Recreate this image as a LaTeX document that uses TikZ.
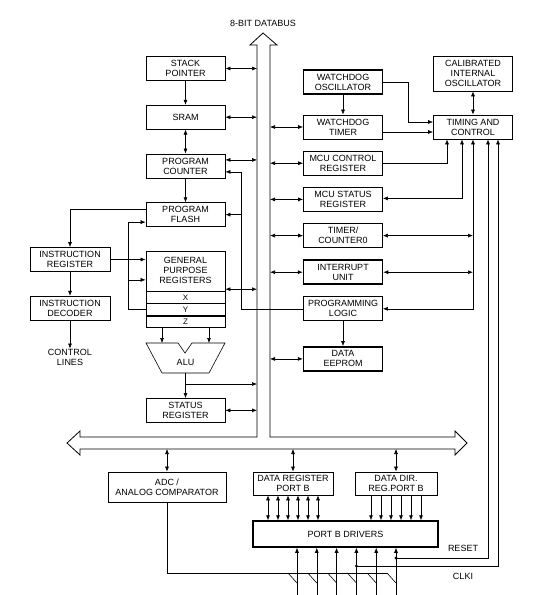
\documentclass[tikz,border=0pt]{standalone}
\usepackage{fontspec}
\setmainfont{Liberation Sans}
\usetikzlibrary{arrows.meta, positioning, calc}

\begin{document}
\begin{tikzpicture}[x=1pt, y=-1pt, >={Latex[length=5pt,width=4pt]}, line width=0.6pt,
  node distance=24pt,
  box/.style={draw, line width=0.7pt, minimum width=79pt, minimum height=24pt, inner sep=0pt,
              align=center, font=\fontsize{9}{10}\selectfont},
  tbox/.style={box, line width=1.5pt},
  row/.style={box, minimum height=11.5pt, font=\fontsize{8}{9}\selectfont},
  lbl/.style={inner sep=0pt, align=center, font=\fontsize{9}{10}\selectfont}]
\useasboundingbox (0,0) rectangle (546,595);

\coordinate (busL) at (257,0);
\coordinate (busR) at (270,0);
\coordinate (busB) at (0,449);
\draw[line width=0.8pt] (67,443) -- (80,431) -- (80,437) -- (257,437) -- (257,45) -- (250,45)
  -- (263,33) -- (277,45) -- (270,45) -- (270,437) -- (455,437) -- (455,431) -- (467,443)
  -- (455,455) -- (455,449) -- (80,449) -- (80,455) -- cycle;
\node[lbl] (db) at (263,23) {8-BIT DATABUS};

\node[box] (sp) at (185.5,68.5) {STACK\\POINTER};
\node[box, below=of sp] (sram) {SRAM};
\node[box, below=of sram] (pc) {PROGRAM\\COUNTER};
\node[box, below=of pc] (pf) {PROGRAM\\FLASH};
\node[box, minimum height=40pt, anchor=north] (gpr) at (185.5,250.5) {GENERAL\\PURPOSE\\REGISTERS};
\node[row, below=0pt of gpr] (rx) {X};
\node[row, below=0pt of rx] (ry) {Y};
\node[row, below=0pt of ry] (rz) {Z};
\node[lbl] (alu) at (185.5,362) {ALU};
\draw (146,343) -- (178,343) -- (185,353) -- (192,343) -- (225,343) -- (209,373) -- (162,373) -- cycle;
\node[box, anchor=north] (sr) at (185.5,398) {STATUS\\REGISTER};
\node[box, minimum width=80pt] (ir) at (70,259.5) {INSTRUCTION\\REGISTER};
\node[box, minimum width=80pt, below=of ir] (id) {INSTRUCTION\\DECODER};
\node[lbl] (cl) at (70,357) {CONTROL\\LINES};

\node[tbox] (wo) at (343,82) {WATCHDOG\\OSCILLATOR};
\node[box] (wt) at (343,127) {WATCHDOG\\TIMER};
\node[box, below=11.5pt of wt] (mcr) {MCU CONTROL\\REGISTER};
\node[box, below=11.5pt of mcr] (msr) {MCU STATUS\\REGISTER};
\node[box, below=11.5pt of msr] (t0) {TIMER/\\COUNTER0};
\node[tbox, below=11.5pt of t0] (iu) {INTERRUPT\\UNIT};
\node[box, below=11.5pt of iu] (pl) {PROGRAMMING\\LOGIC};
\node[tbox, below=25pt of pl] (de) {DATA\\EEPROM};
\node[box, minimum height=35pt] (cio) at (473,73.5) {CALIBRATED\\INTERNAL\\OSCILLATOR};
\node[box] (tc) at (473,127) {TIMING AND\\CONTROL};

\node[box, minimum width=118pt, minimum height=30pt] (adc) at (167,487) {ADC /\\ANALOG COMPARATOR};
\node[box, minimum width=80pt, minimum height=23pt] (drpb) at (293,483.5) {DATA REGISTER\\PORT B};
\node[box, minimum width=82pt, minimum height=23pt] (ddr) at (396,483.5) {DATA DIR.\\REG.PORT B};
\node[tbox, minimum width=185pt, minimum height=26pt] (pbd) at (345.5,534) {PORT B DRIVERS};
\node[lbl] (rst) at (463,548) {RESET};
\node[lbl] (clki) at (463,576) {CLKI};

\draw[->] (sp) -- (sram);
\draw[<->] (sram) -- (pc);
\draw[->] (pc) -- (pf);
\coordinate (pc1) at ([yshift=6pt]pc.east);
\coordinate (pc2) at ([yshift=-6pt]pc.east);
\foreach \n in {sp, sram, pc1, sr} \draw[<->] (\n) -- (\n -| busL);
\coordinate (g2) at ([yshift=2pt]gpr.south east);
\draw[<->] (g2) -- (g2 -| busL);
\coordinate (plx) at (241,0);
\draw[->] (pl.west) -- (pl.west -| plx) |- (pc2);
\draw[->] (plx |- pf.east) -- (pf.east);
\draw[->] ([yshift=5pt]pf.west) -| (ir.north);
\coordinate (lp) at (128,0);
\draw[->] (ry.west) -- (lp |- ry.west) |- ([yshift=-7.5pt]pf.west);
\coordinate (g1) at ([yshift=-9pt]gpr.west);
\draw[->] (lp |- g1) -- (g1);
\draw[->] (ir.east) -- (ir.east -| gpr.west);
\draw[->] (ir) -- (id);
\draw[->] (id) -- (cl);
\coordinate (a1) at (162,343);
\coordinate (a2) at (209,343);
\draw[->] (rz.south -| a1) -- (a1);
\draw[->] (rz.south -| a2) -- (a2);
\coordinate (a3) at (185.5,373);
\coordinate (a4) at (185.5,384);
\draw[->] (a3) -- (sr.north);
\draw[->] (a4) -- (a4 -| busL);

\foreach \n in {wt, mcr, msr, t0, iu, de} \draw[<->] (busR |- \n.west) -- (\n.west);
\draw[->] (wo) -- (wt);
\coordinate (tc1) at ([yshift=5pt]tc.west);
\coordinate (tc2) at ([yshift=-5pt]tc.west);
\draw[->] (wo.east) -- ++(25,0) |- (tc1);
\draw[->] (wt.east |- tc2) -- (tc2);
\draw[<->] (cio) -- (tc);
\draw[->] (mcr.east) -| ([xshift=-26pt]tc.south);
\draw[<->] ([xshift=-11pt]tc.south) |- ([yshift=1pt]msr.east);
\draw[<->] (tc.south) |- (pl.east);
\foreach \n in {t0, iu} \draw[<->] (\n.east) -- (\n.east -| tc.south);
\draw[->] (pl) -- (de);

\foreach \n in {adc, drpb, ddr} \draw[<->] (\n.north |- busB) -- (\n.north);
\foreach \i in {0,...,5} {
  \coordinate (d\i) at ([xshift=\i*10pt-25pt]drpb.south);
  \coordinate (r\i) at ([xshift=\i*10pt-25pt]ddr.south);
  \coordinate (p\i) at (297+19.8*\i,595);
  \draw[<->] (d\i) -- (d\i |- pbd.north);
  \draw[->] (r\i) -- (r\i |- pbd.north);
  \draw[->] (p\i) -- (p\i |- pbd.south);
  \draw (p\i) ++(-9,-22) -- ++(9,10);
}
\coordinate (gnd) at (388,573);
\draw (adc.south) |- (gnd);
\coordinate (rd) at (p5 |- 0,558);
\coordinate (cd) at (p3 |- 0,566);
\fill (rd) circle (1.6pt);
\fill (cd) circle (1.6pt);
\draw[->] (rd) -| ([xshift=15pt]tc.south);
\draw[->] (cd) -| ([xshift=25pt]tc.south);
\end{tikzpicture}
\end{document}
